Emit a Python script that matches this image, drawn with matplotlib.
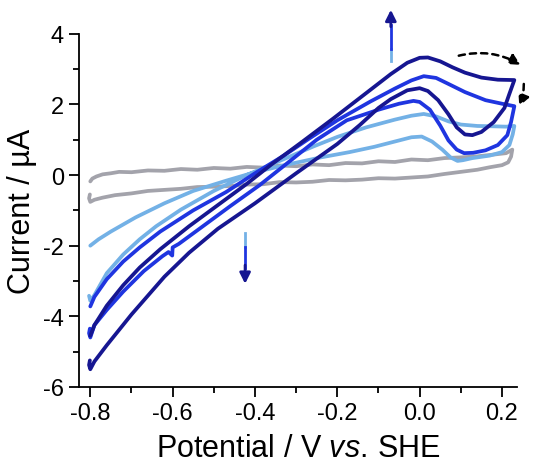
import matplotlib
matplotlib.use("Agg")
import matplotlib.pyplot as plt
from matplotlib.ticker import MultipleLocator

plt.rcParams['font.family'] = ['Liberation Sans', 'DejaVu Sans']
plt.rcParams['mathtext.fontset'] = 'custom'
plt.rcParams['mathtext.rm'] = 'Liberation Sans'
plt.rcParams['mathtext.it'] = 'Liberation Sans:italic'

# colours of the four scans
c_gray = '#a3a3ab'
c_light = '#73b1e6'
c_blue = '#1f35e0'
c_navy = '#161691'

# --- gray (blank) scan ---
gray_up_x = [-0.800, -0.795, -0.785, -0.77, -0.75, -0.73, -0.70, -0.66, -0.62, -0.58, -0.54, -0.50, -0.46,
             -0.42, -0.38, -0.34, -0.30, -0.26, -0.22, -0.18, -0.14, -0.10, -0.06, -0.02, 0.02, 0.06,
             0.10, 0.14, 0.18, 0.21, 0.225]
gray_up_y = [-0.18, -0.10, -0.04, 0.02, 0.05, 0.09, 0.08, 0.13, 0.12, 0.17, 0.15, 0.20, 0.18, 0.23,
             0.21, 0.27, 0.25, 0.30, 0.28, 0.34, 0.33, 0.39, 0.37, 0.44, 0.42, 0.48, 0.50, 0.53, 0.58,
             0.62, 0.72]
gray_dn_x = [0.225, 0.222, 0.215, 0.20, 0.17, 0.14, 0.10, 0.06, 0.02, -0.02, -0.06, -0.10, -0.14, -0.18,
             -0.22, -0.26, -0.30, -0.34, -0.38, -0.42, -0.46, -0.50, -0.54, -0.58, -0.62, -0.66, -0.70,
             -0.74, -0.77, -0.79, -0.800, -0.803, -0.801]
gray_dn_y = [0.72, 0.52, 0.36, 0.28, 0.22, 0.15, 0.09, 0.03, -0.04, -0.07, -0.10, -0.09, -0.13, -0.15,
             -0.14, -0.19, -0.21, -0.20, -0.26, -0.27, -0.31, -0.33, -0.34, -0.39, -0.42, -0.45, -0.52,
             -0.57, -0.64, -0.70, -0.76, -0.66, -0.55]

# --- light blue scan ---
lb_up_x = [-0.803, -0.800, -0.79, -0.76, -0.72, -0.68, -0.64, -0.58, -0.50, -0.42, -0.34, -0.26, -0.20,
           -0.13, -0.06, -0.02, 0.01, 0.04, 0.07, 0.10, 0.14, 0.18, 0.21, 0.23]
lb_up_y = [-3.42, -3.56, -3.40, -2.78, -2.25, -1.82, -1.45, -0.98, -0.45, 0.00, 0.40, 0.80, 1.08, 1.35,
           1.57, 1.68, 1.73, 1.66, 1.52, 1.43, 1.39, 1.38, 1.37, 1.39]
lb_dn_x = [0.23, 0.226, 0.218, 0.20, 0.17, 0.128, 0.105, 0.092, 0.075, 0.055, 0.03, 0.005, -0.02,
           -0.06, -0.11, -0.17, -0.24, -0.32, -0.40, -0.47, -0.55, -0.62, -0.69, -0.75, -0.78, -0.80]
lb_dn_y = [1.39, 1.15, 0.85, 0.65, 0.55, 0.48, 0.42, 0.40, 0.50, 0.72, 0.95, 1.09, 1.07, 0.95, 0.80,
           0.65, 0.50, 0.30, 0.08, -0.16, -0.45, -0.80, -1.20, -1.60, -1.82, -2.00]

# --- blue scan ---
b_up_x = [-0.800, -0.79, -0.76, -0.72, -0.68, -0.63, -0.55, -0.47, -0.40, -0.33, -0.27, -0.20, -0.12,
          -0.06, -0.02, 0.01, 0.04, 0.07, 0.11, 0.16, 0.20, 0.23]
b_up_y = [-3.72, -3.45, -2.95, -2.45, -2.05, -1.60, -1.00, -0.48, 0.05, 0.55, 1.02, 1.55, 2.08, 2.45,
          2.68, 2.80, 2.75, 2.58, 2.35, 2.12, 2.02, 1.95]
b_dn_x = [0.23, 0.222, 0.213, 0.19, 0.16, 0.13, 0.108, 0.09, 0.07, 0.05, 0.025, 0.0, -0.015, -0.05,
          -0.10, -0.177, -0.25, -0.32, -0.388, -0.46, -0.53, -0.585, -0.600, -0.601, -0.610, -0.625,
          -0.67, -0.72, -0.76, -0.79, -0.800, -0.803, -0.801]
b_dn_y = [1.95, 1.50, 1.13, 0.85, 0.70, 0.63, 0.62, 0.72, 0.98, 1.40, 1.85, 2.07, 2.10, 2.02, 1.85,
          1.55, 1.00, 0.35, -0.28, -0.88, -1.48, -1.95, -2.05, -2.28, -2.18, -2.30, -2.72, -3.30,
          -3.82, -4.25, -4.60, -4.48, -4.35]

# --- navy scan ---
n_up_x = [-0.800, -0.79, -0.76, -0.72, -0.68, -0.63, -0.56, -0.49, -0.42, -0.36, -0.29, -0.21, -0.13,
          -0.07, -0.03, 0.0, 0.02, 0.05, 0.08, 0.11, 0.15, 0.19, 0.23]
n_up_y = [-4.55, -4.25, -3.70, -3.12, -2.62, -2.10, -1.45, -0.85, -0.25, 0.30, 0.90, 1.60, 2.32, 2.86,
          3.18, 3.32, 3.33, 3.22, 3.05, 2.90, 2.76, 2.70, 2.69]
n_dn_x = [0.23, 0.218, 0.206, 0.18, 0.15, 0.128, 0.11, 0.09, 0.07, 0.045, 0.02, 0.0, -0.03, -0.07,
          -0.10, -0.145, -0.20, -0.30, -0.40, -0.49, -0.56, -0.62, -0.70, -0.76, -0.79, -0.800, -0.803,
          -0.801]
n_dn_y = [2.69, 2.30, 1.90, 1.50, 1.22, 1.13, 1.15, 1.35, 1.72, 2.12, 2.38, 2.46, 2.40, 2.15, 1.90,
          1.42, 0.88, 0.05, -0.80, -1.52, -2.20, -2.88, -3.95, -4.82, -5.28, -5.50, -5.38, -5.25]

scans = [
    (gray_up_x + gray_dn_x, gray_up_y + gray_dn_y, c_gray),
    (lb_up_x + lb_dn_x, lb_up_y + lb_dn_y, c_light),
    (b_up_x + b_dn_x, b_up_y + b_dn_y, c_blue),
    (n_up_x + n_dn_x, n_up_y + n_dn_y, c_navy),
]

fig = plt.figure(figsize=(5.35, 4.64), dpi=100)
ax = fig.add_axes([0.148, 0.164, 0.818, 0.761])

for xs, ys, col in scans:
    ax.plot(xs, ys, color=col, lw=2.7, solid_joinstyle='round', solid_capstyle='round')

# vertical arrows showing the current change
ax.plot([-0.07, -0.07], [3.23, 3.58], color=c_light, lw=2, clip_on=False)
ax.plot([-0.07, -0.07], [3.58, 4.25], color=c_blue, lw=2, clip_on=False)
ax.annotate('', xy=(-0.07, 4.68), xytext=(-0.07, 4.2), annotation_clip=False,
            arrowprops=dict(arrowstyle='-|>', color=c_navy, lw=2, mutation_scale=16,
                            shrinkA=0, shrinkB=0))
ax.plot([-0.424, -0.424], [-1.64, -2.05], color=c_light, lw=2)
ax.plot([-0.424, -0.424], [-2.05, -2.62], color=c_blue, lw=2)
ax.annotate('', xy=(-0.424, -3.08), xytext=(-0.424, -2.55),
            arrowprops=dict(arrowstyle='-|>', color=c_navy, lw=2, mutation_scale=16,
                            shrinkA=0, shrinkB=0))

# dashed arrows for scan direction
ax.annotate('', xy=(0.245, 3.12), xytext=(0.095, 3.38), annotation_clip=False,
            arrowprops=dict(arrowstyle='-|>', color='k', lw=1.8, ls=(0, (2.5, 2)),
                            mutation_scale=16, shrinkA=0, shrinkB=0,
                            connectionstyle='arc3,rad=-0.2'))
ax.annotate('', xy=(0.242, 1.95), xytext=(0.253, 2.58), annotation_clip=False,
            arrowprops=dict(arrowstyle='-|>', color='k', lw=1.8, ls=(0, (2.5, 2)),
                            mutation_scale=16, shrinkA=0, shrinkB=0,
                            connectionstyle='arc3,rad=-0.1'))

ax.set_xlim(-0.827, 0.236)
ax.set_ylim(-6, 4)
ax.xaxis.set_minor_locator(MultipleLocator(0.1))
ax.yaxis.set_minor_locator(MultipleLocator(1))
ax.set_xticks([-0.8, -0.6, -0.4, -0.2, 0.0, 0.2])
ax.set_xticklabels(['-0.8', '-0.6', '-0.4', '-0.2', '0.0', '0.2'])
ax.set_yticks([-6, -4, -2, 0, 2, 4])
ax.set_yticklabels(['-6', '-4', '-2', '0', '2', '4'])

for s in ['top', 'right']:
    ax.spines[s].set_visible(False)
for s in ['left', 'bottom']:
    ax.spines[s].set_linewidth(1.3)
ax.tick_params(which='major', direction='out', length=7, width=1.3, labelsize=17, pad=4)
ax.tick_params(which='minor', direction='out', length=4, width=1.3)

ax.set_xlabel('$\\mathrm{Potential\\ /\\ V}\\ \\mathit{vs.}\\,\\mathrm{SHE}$', fontsize=22, labelpad=6)
ax.set_ylabel('Current / \u00b5A', fontsize=22, labelpad=4)

fig.savefig('out.png', dpi=100)
